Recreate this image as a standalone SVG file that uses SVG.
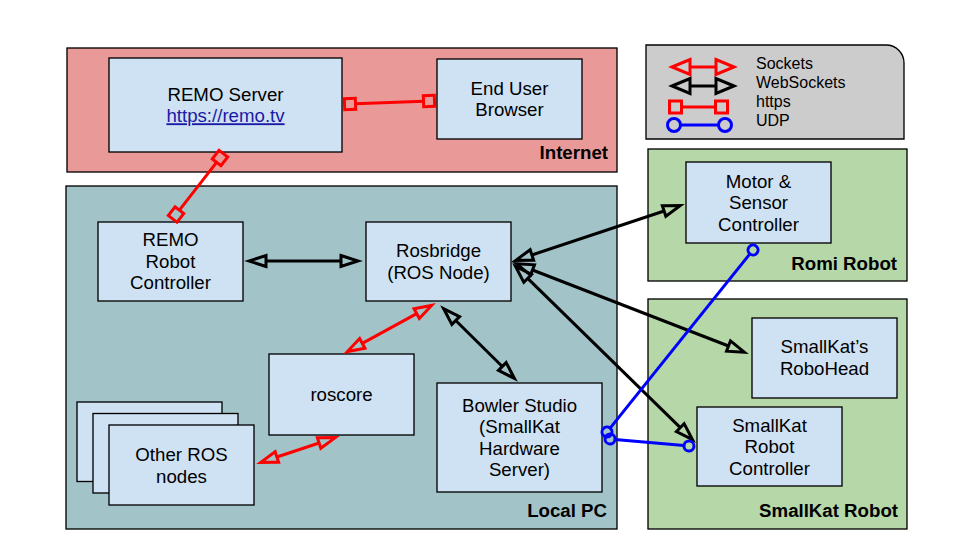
<svg xmlns="http://www.w3.org/2000/svg" width="960" height="540" viewBox="0 0 960 540">
<style>
  .region { stroke: #000; stroke-width: 1.33; }
  .node rect { fill: #cfe2f3; stroke: #000; stroke-width: 1.33; }
  .node text, .legend text { font-family: "Liberation Sans", Arial, sans-serif; fill: #000; text-anchor: middle; }
  .node text { font-size: 18.67px; }
  .label { font-family: "Liberation Sans", Arial, sans-serif; font-weight: bold; font-size: 18.67px; text-anchor: end; fill: #000; }
  .legend text { font-size: 16px; text-anchor: start; }
  .ws { stroke: #000; stroke-width: 3; fill: none; marker-start: url(#triK); marker-end: url(#triK); }
  .sock { stroke: #f00; stroke-width: 3; fill: none; marker-start: url(#triR); marker-end: url(#triR); }
  .https { stroke: #f00; stroke-width: 3; fill: none; marker-start: url(#sqR); marker-end: url(#sqR); }
  .udp { stroke: #00f; stroke-width: 3; fill: none; marker-start: url(#ciB); marker-end: url(#ciB); }
  .node text.link { fill: #1a1aa6; text-decoration: underline; }
</style>
<defs>
  <marker id="triK" markerUnits="userSpaceOnUse" orient="auto-start-reverse" refX="0" refY="0" markerWidth="30" markerHeight="30" overflow="visible">
    <path d="M0,-5.5 L17,0 L0,5.5 Z" fill="none" stroke="#000" stroke-width="3" stroke-linejoin="miter"/>
  </marker>
  <marker id="triR" markerUnits="userSpaceOnUse" orient="auto-start-reverse" refX="0" refY="0" markerWidth="30" markerHeight="30" overflow="visible">
    <path d="M0,-5.5 L17,0 L0,5.5 Z" fill="none" stroke="#f00" stroke-width="3" stroke-linejoin="miter"/>
  </marker>
  <marker id="sqR" markerUnits="userSpaceOnUse" orient="auto-start-reverse" refX="0" refY="0" markerWidth="30" markerHeight="30" overflow="visible">
    <path d="M0,-5.5 H11 V5.5 H0 Z" fill="none" stroke="#f00" stroke-width="3"/>
  </marker>
  <marker id="ciB" markerUnits="userSpaceOnUse" orient="auto-start-reverse" refX="0" refY="0" markerWidth="30" markerHeight="30" overflow="visible">
    <circle cx="5" cy="0" r="5" fill="none" stroke="#00f" stroke-width="3"/>
  </marker>
</defs>

<rect width="960" height="540" fill="#fff"/>

<g id="internet">
  <rect class="region" x="67" y="48" width="550" height="124" fill="#ea9999"/>
  <text class="label" x="608" y="159">Internet</text>
</g>
<g id="local-pc">
  <rect class="region" x="66" y="186" width="551" height="343" fill="#a2c4c9"/>
  <text class="label" x="607" y="517">Local PC</text>
</g>
<g id="romi-robot">
  <rect class="region" x="648" y="149" width="259" height="132" fill="#b6d7a8"/>
  <text class="label" x="897" y="270">Romi Robot</text>
</g>
<g id="smallkat-robot">
  <rect class="region" x="648" y="299" width="259" height="230" fill="#b6d7a8"/>
  <text class="label" x="898" y="517">SmallKat Robot</text>
</g>

<g id="legend" class="legend">
  <path d="M646,45 H886 A18,18 0 0 1 904,63 V139 H646 Z" fill="#cccccc" stroke="#000" stroke-width="1.33"/>
  <line x1="690" y1="67" x2="716" y2="67" stroke="#f00" stroke-width="3"/>
  <polygon points="672,67 690,59.5 690,74.5" fill="none" stroke="#f00" stroke-width="3"/>
  <polygon points="734,67 716,59.5 716,74.5" fill="none" stroke="#f00" stroke-width="3"/>
  <line x1="690" y1="86" x2="716" y2="86" stroke="#000" stroke-width="3"/>
  <polygon points="672,86 690,78.5 690,93.5" fill="none" stroke="#000" stroke-width="3"/>
  <polygon points="734,86 716,78.5 716,93.5" fill="none" stroke="#000" stroke-width="3"/>
  <line x1="682" y1="107" x2="715" y2="107" stroke="#f00" stroke-width="3"/>
  <rect x="669.5" y="101" width="12" height="12" fill="none" stroke="#f00" stroke-width="3"/>
  <rect x="715.5" y="101" width="12" height="12" fill="none" stroke="#f00" stroke-width="3"/>
  <line x1="680.5" y1="125" x2="718.5" y2="125" stroke="#00f" stroke-width="3"/>
  <circle cx="674" cy="125" r="6.5" fill="none" stroke="#00f" stroke-width="3"/>
  <circle cx="725" cy="125" r="6.5" fill="none" stroke="#00f" stroke-width="3"/>
  <text x="756" y="69">Sockets</text>
  <text x="756" y="88">WebSockets</text>
  <text x="756" y="107">https</text>
  <text x="756" y="126">UDP</text>
</g>

<g id="remo-server" class="node">
  <rect x="109" y="58" width="233" height="94"/>
  <text x="225.5" y="100.75">REMO Server</text>
  <text x="225.5" y="122.25" class="link">https://remo.tv</text>
</g>
<g id="end-user-browser" class="node">
  <rect x="437" y="59" width="145" height="80"/>
  <text x="509.5" y="94.75">End User</text>
  <text x="509.5" y="116.25">Browser</text>
</g>
<g id="remo-robot-controller" class="node">
  <rect x="98" y="222" width="145" height="79"/>
  <text x="170.5" y="246">REMO</text>
  <text x="170.5" y="267.5">Robot</text>
  <text x="170.5" y="289">Controller</text>
</g>
<g id="rosbridge" class="node">
  <rect x="366" y="222" width="145" height="79"/>
  <text x="438.5" y="257.25">Rosbridge</text>
  <text x="438.5" y="278.75">(ROS Node)</text>
</g>
<g id="roscore" class="node">
  <rect x="269" y="354" width="145" height="81"/>
  <text x="341.5" y="401">roscore</text>
</g>
<g id="other-ros-nodes" class="node">
  <rect x="77" y="402" width="145" height="79.5"/>
  <rect x="93" y="413.5" width="145" height="79.5"/>
  <rect x="109" y="425" width="145" height="80"/>
  <text x="181.5" y="461.25">Other ROS</text>
  <text x="181.5" y="482.75">nodes</text>
</g>
<g id="bowler-studio" class="node">
  <rect x="437" y="383" width="165" height="109"/>
  <text x="519.5" y="411.75">Bowler Studio</text>
  <text x="519.5" y="433.25">(SmallKat</text>
  <text x="519.5" y="454.75">Hardware</text>
  <text x="519.5" y="476.25">Server)</text>
</g>
<g id="motor-sensor-controller" class="node">
  <rect x="686" y="162" width="145" height="81"/>
  <text x="758.5" y="187.5">Motor &amp;</text>
  <text x="758.5" y="209">Sensor</text>
  <text x="758.5" y="230.5">Controller</text>
</g>
<g id="smallkat-robohead" class="node">
  <rect x="752" y="318" width="145" height="80"/>
  <text x="824.5" y="353.25">SmallKat’s</text>
  <text x="824.5" y="374.75">RoboHead</text>
</g>
<g id="smallkat-robot-controller" class="node">
  <rect x="697" y="407" width="145" height="79"/>
  <text x="769.5" y="431.5">SmallKat</text>
  <text x="769.5" y="453">Robot</text>
  <text x="769.5" y="474.5">Controller</text>
</g>

<g id="connectors">
  <line class="https" x1="355.5" y1="103.8" x2="423.5" y2="101.2"/>
  <line class="https" x1="216.6" y1="162.3" x2="179.4" y2="210.2"/>
  <line class="ws" x1="266" y1="261" x2="341" y2="261"/>
  <line class="ws" x1="531.9" y1="255" x2="664.1" y2="211"/>
  <line class="ws" x1="532.5" y1="270" x2="728.5" y2="346"/>
  <line class="ws" x1="527.7" y1="278.4" x2="680.3" y2="427.6"/>
  <line class="ws" x1="455.7" y1="320.5" x2="502.3" y2="366.5"/>
  <line class="sock" x1="416.7" y1="313.6" x2="362.3" y2="343.4"/>
  <line class="sock" x1="319.1" y1="443" x2="276.9" y2="457"/>
  <line class="udp" x1="749.9" y1="253.9" x2="610.1" y2="428.1"/>
  <line class="udp" x1="615" y1="439.4" x2="684" y2="445.6"/>
</g>
</svg>
